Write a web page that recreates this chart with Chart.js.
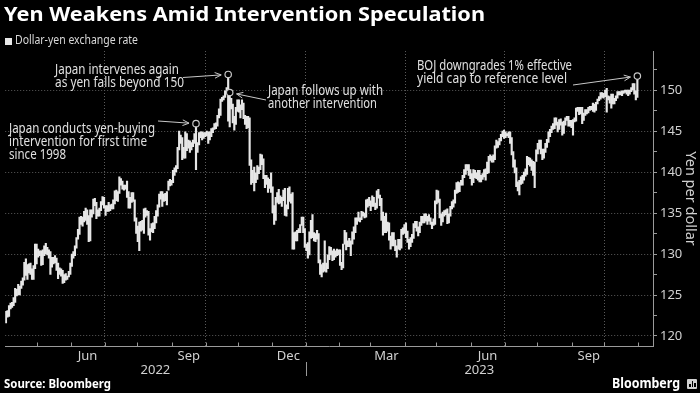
<!DOCTYPE html>
<html>
<head>
<meta charset="utf-8">
<script src="https://cdn.jsdelivr.net/npm/chart.js@4"></script>
<style>
  html, body { margin: 0; padding: 0; background: #000; }
  #wrap { position: relative; width: 700px; height: 393px; overflow: hidden; background: #000; font-family: 'Noto Sans', sans-serif; }
  #chart { position: absolute; left: 0; top: 0; }
  .txt { position: absolute; white-space: nowrap; display: inline-block; transform-origin: 0 0; line-height: 1; z-index: 2; }
  #title { left: 4px; top: 4px; font-size: 20px; font-weight: 700; color: #fff; }
  #sub { left: 15px; top: 34px; font-size: 12px; color: #d8d8d8; }
  #subKey { position: absolute; left: 5px; top: 37.5px; width: 7px; height: 7px; background: #e8e8e8; }
  #source { left: 4px; top: 378px; font-size: 12.5px; font-weight: 700; color: #fff; }
  #logo { left: 612px; top: 375.5px; font-size: 14px; font-weight: 700; color: #fff; }
  #logoIcon { position: absolute; left: 687px; top: 379px; width: 10px; height: 10px; background: #d0d0d0; border-radius: 1px; }
  #logoIcon i { position: absolute; bottom: 2px; width: 1.5px; background: #000; }
</style>
</head>
<body>
<div id="wrap">
  <canvas id="chart" width="700" height="393"></canvas>
  <div id="title" class="txt" data-w="481">Yen Weakens Amid Intervention Speculation</div>
  <div id="subKey"></div>
  <div id="sub" class="txt" data-w="123">Dollar-yen exchange rate</div>
  <div id="source" class="txt" data-w="107">Source: Bloomberg</div>
  <div id="logo" class="txt" data-w="68">Bloomberg</div>
  <div id="logoIcon"><i style="left:2px;height:3px"></i><i style="left:4.5px;height:6px"></i><i style="left:7px;height:4px"></i></div>
</div>
<script>
// Daily USD/JPY ranges, one value per weekday from 1 Apr 2022 to 31 Oct 2023
const lows = [
  // Apr 2022
  121.6,122.3,122.4,123.3,123.5,123.7,124.1,124.9,125.0,125.0,125.8,126.2,126.8,127.4,126.9,127.7,127.5,126.9,126.9,128.2,128.8,
  // May
  129.6,129.8,128.6,128.7,129.8,130.0,129.9,129.5,127.5,128.4,128.8,128.9,128.0,127.0,127.5,127.3,126.4,126.5,126.8,126.9,127.2,127.5,
  // Jun
  128.5,129.5,129.8,130.7,131.8,132.4,133.6,133.4,133.9,134.1,133.6,131.5,131.6,134.5,134.9,135.9,134.3,134.6,134.6,135.3,136.0,135.6,
  // Jul
  134.7,135.2,135.2,135.3,135.5,135.5,136.1,136.5,136.4,137.4,138.4,137.9,137.8,137.9,136.9,135.6,135.6,136.3,136.4,134.0,132.5,
  // Aug
  131.5,130.4,132.8,132.9,132.5,134.5,134.7,132.3,131.7,132.7,132.6,133.1,133.8,134.6,135.7,136.7,135.8,136.4,136.5,136.0,137.8,138.3,138.4,
  // Sep
  138.7,139.6,140.0,140.4,142.7,143.5,141.5,141.7,141.7,142.6,142.9,142.4,142.7,143.1,143.5,140.3,142.4,143.3,144.2,143.9,144.1,144.3,
  // Oct
  144.4,143.5,143.9,144.3,144.8,145.2,145.3,145.6,146.6,146.9,148.6,148.8,149.1,149.7,146.2,145.5,147.7,146.0,145.1,145.8,147.4,
  // Nov
  147.3,146.6,147.6,146.5,145.8,145.3,145.4,140.8,138.5,138.7,137.7,138.7,139.1,139.8,140.3,140.9,139.2,138.1,138.5,137.5,138.0,137.5,
  // Dec
  135.0,133.6,134.1,136.3,136.1,136.2,135.8,136.5,134.7,134.6,135.5,136.4,136.2,130.6,130.6,131.6,131.6,132.6,132.6,133.5,132.6,130.8,
  // Jan 2023
  130.4,129.5,129.9,131.9,132.0,131.6,131.5,131.8,128.9,127.5,127.2,127.8,127.9,127.8,128.2,129.3,129.9,129.2,129.3,129.6,129.8,129.9,
  // Feb
  128.6,128.1,128.3,131.2,130.5,130.9,130.9,129.8,131.2,131.8,132.6,133.6,134.0,133.9,134.2,134.6,134.4,134.5,135.7,135.9,
  // Mar
  135.3,135.8,135.8,135.4,135.6,136.8,135.9,134.1,132.3,132.6,132.6,132.8,131.7,130.6,131.0,131.0,130.4,129.6,130.6,130.5,130.7,132.4,132.5,
  // Apr
  132.0,131.4,130.6,130.9,131.4,131.9,133.2,132.8,132.2,132.6,133.5,133.8,133.8,134.0,133.6,134.0,133.6,133.1,133.5,133.6,
  // May
  136.1,136.3,134.4,133.5,133.9,134.6,134.8,133.7,133.8,134.6,135.5,135.7,136.2,137.4,137.5,137.6,138.4,138.4,139.3,139.7,140.2,139.6,139.2,
  // Jun
  138.4,138.7,139.3,139.2,139.0,138.8,138.8,139.1,139.4,139.0,139.8,139.9,141.4,141.2,141.2,141.5,142.9,143.0,143.3,143.8,144.3,144.1,
  // Jul
  144.2,144.4,144.2,143.5,142.1,140.6,139.9,138.2,137.7,137.2,138.5,138.6,139.0,139.5,139.7,140.9,140.7,140.2,139.6,138.1,141.3,
  // Aug
  142.2,142.8,142.2,141.5,141.7,142.4,143.0,143.6,144.3,144.8,145.2,145.3,145.7,144.9,145.2,145.7,144.5,144.7,145.7,146.3,145.6,145.6,145.4,
  // Sep
  144.5,146.1,146.2,147.4,147.0,147.1,145.9,146.3,146.9,147.1,147.2,147.5,147.6,147.4,147.3,147.5,148.3,148.7,148.9,149.1,149.0,
  // Oct
  149.2,147.3,148.8,148.4,147.8,148.3,148.3,148.7,149.0,149.4,149.4,149.3,149.6,149.7,149.5,149.3,149.5,149.8,150.0,149.5,148.8,149.1
];
const highs = [
  // Apr 2022
  123.0,123.1,123.7,124.0,124.1,124.7,125.8,125.7,126.3,126.1,126.7,127.1,129.0,129.4,128.7,128.8,128.9,128.2,128.6,131.2,131.2,
  // May
  130.6,130.4,130.4,130.5,131.0,131.3,130.8,130.5,130.3,129.6,129.6,129.8,129.5,128.9,128.3,128.2,128.0,127.5,127.6,127.3,127.9,128.9,
  // Jun
  130.0,130.3,131.0,132.0,133.0,134.5,134.6,134.5,135.2,135.6,135.4,134.7,135.4,135.4,136.7,136.8,136.3,135.4,135.6,136.4,137.0,136.9,
  // Jul
  135.9,135.9,136.3,136.0,136.1,136.6,137.7,137.8,137.6,139.4,139.2,138.9,138.4,138.4,138.9,137.6,136.9,137.5,137.5,136.6,134.4,
  // Aug
  133.4,133.9,134.0,134.1,135.5,135.6,135.3,135.2,133.1,133.7,133.8,134.6,135.3,136.0,137.3,137.6,137.6,137.3,137.4,137.6,138.9,139.1,139.0,
  // Sep
  140.2,140.5,140.8,143.0,145.0,144.5,144.2,143.0,144.9,144.7,143.9,143.8,143.6,143.9,144.7,145.9,143.6,144.8,144.9,144.9,144.8,144.8,
  // Oct
  145.0,144.9,144.9,145.3,145.4,145.9,146.0,146.9,147.7,148.9,149.1,149.3,149.9,150.3,151.9,149.7,149.0,148.3,146.8,147.9,148.8,
  // Nov
  148.8,148.2,148.8,148.4,146.9,146.8,146.8,146.6,141.5,140.2,140.6,139.9,140.8,140.6,142.2,142.1,141.6,139.6,139.6,139.3,139.1,139.9,
  // Dec
  138.2,135.9,136.9,137.5,137.9,137.1,136.9,137.8,138.0,136.0,138.0,138.2,137.3,137.5,132.6,132.7,132.9,133.1,133.6,134.5,134.5,133.1,
  // Jan 2023
  131.2,131.4,132.7,134.1,134.8,132.6,132.5,132.9,132.5,129.3,128.7,128.9,131.6,128.9,129.9,130.9,130.8,130.4,130.6,130.4,130.6,130.5,
  // Feb
  130.5,129.0,131.2,132.9,132.6,131.6,131.9,131.6,132.7,133.3,134.4,134.4,135.1,134.4,135.2,135.1,135.0,136.6,136.7,136.9,
  // Mar
  136.5,137.1,136.9,136.2,137.7,137.9,137.2,136.8,135.1,134.6,135.0,133.9,133.8,132.2,132.6,132.6,131.7,131.0,131.8,131.8,133.0,133.2,133.6,
  // Apr
  133.8,132.8,131.8,132.0,132.4,133.7,134.0,134.0,133.3,133.9,134.6,134.6,134.9,134.9,134.6,134.8,134.4,133.9,134.3,136.5,
  // May
  137.8,137.7,136.7,134.9,135.1,135.3,135.4,135.5,134.9,135.8,136.4,136.6,137.8,138.7,138.8,138.7,139.0,139.6,140.3,140.9,140.9,140.9,140.3,
  // Jun
  139.8,140.3,140.2,139.9,140.2,140.2,139.6,139.8,140.3,140.4,141.2,141.9,142.1,141.9,142.1,143.2,143.9,143.7,144.1,144.6,145.0,145.1,
  // Jul
  144.9,144.7,144.9,144.9,144.2,142.5,141.5,140.5,138.8,139.0,139.4,139.6,140.0,140.4,141.9,141.8,141.7,141.5,141.3,141.2,142.7,
  // Aug
  143.5,143.9,143.9,142.8,142.8,143.5,144.0,144.9,145.2,145.6,145.9,146.6,146.6,146.1,146.4,146.5,146.1,146.2,146.6,146.8,146.8,146.3,146.3,
  // Sep
  146.4,146.6,147.8,147.9,147.9,147.9,147.9,147.2,147.6,147.6,147.9,148.0,148.0,148.4,148.3,148.5,148.9,149.2,149.7,149.7,149.6,
  // Oct
  150.0,150.2,149.3,149.2,149.5,149.5,149.0,149.3,149.8,149.8,149.8,149.9,149.9,150.0,150.0,150.0,150.0,150.3,150.8,150.8,149.9,151.7
];

// Marked events
const markDates = ['2022-09-22', '2022-10-21', '2022-10-24', '2023-10-31'];
const markValues = [145.9, 151.9, 149.7, 151.7];
const markNotes = [
  ['Japan conducts yen-buying', 'intervention for first time', 'since 1998'],
  ['Japan intervenes again', 'as yen falls beyond 150'],
  ['Japan follows up with', 'another intervention'],
  ['BOJ downgrades 1% effective', 'yield cap to reference level']
];

// Axis labels
const monthNames = ['Jan', 'Feb', 'Mar', 'Apr', 'May', 'Jun', 'Jul', 'Aug', 'Sep', 'Oct', 'Nov', 'Dec'];
const labeledMonths = ['Jun', 'Sep', 'Dec', 'Mar'];
const yearLabels = ['2022', '2023'];
const yTicks = [120, 122.5, 125, 127.5, 130, 132.5, 135, 137.5, 140, 142.5, 145, 147.5, 150, 152.5];

// Where the note text and arrow tails sit (pixels)
const noteLayout = [
  { x: 9, y: 132.5, w: [146, 138, 57], from: [158, 121] },
  { x: 55, y: 74, w: [124, 129], from: [183, 77.5] },
  { x: 268, y: 94.5, w: [115, 109], from: [266, 100] },
  { x: 417, y: 69.5, w: [155, 150], from: [573, 85] }
];

const DAY = 86400000;
const start = Date.UTC(2022, 3, 1);
const end = Date.UTC(2023, 9, 31);
function stamp(str) {
  const p = str.split('-').map(Number);
  return Date.UTC(p[0], p[1] - 1, p[2]);
}

// weekdays = trading days; the x axis counts trading days, as on the terminal
const tradeDays = [];
for (let t = start; t <= end; t += DAY) {
  const wd = new Date(t).getUTCDay();
  if (wd !== 0 && wd !== 6) tradeDays.push(t);
}
console.log('days', tradeDays.length, lows.length, highs.length);

// month boundaries sit between the last session of one month and the first of the next
const monthStarts = [];
for (let m = 4; m <= 22; m++) {
  const t = Date.UTC(2022 + Math.floor(m / 12), m % 12, 1);
  let idx = tradeDays.findIndex(d => d >= t);
  if (idx < 0) idx = tradeDays.length;
  monthStarts.push({ value: idx - 0.5, month: m % 12, year: 2022 + Math.floor(m / 12) });
}
const yearBreak = monthStarts.find(ms => ms.month === 0).value;

const candles = tradeDays.map((d, i) => ({ x: i, y: [lows[i], highs[i]] }));
const marks = markDates.map((d, i) => ({ x: tradeDays.indexOf(stamp(d)), y: markValues[i] }));

function fitText(ctx, text, x, y, w) {
  const m = ctx.measureText(text).width;
  ctx.save();
  ctx.translate(x, y);
  ctx.scale(w / m, 1);
  ctx.fillText(text, 0, 0);
  ctx.restore();
}

function arrow(ctx, x0, y0, x1, y1) {
  const a = Math.atan2(y1 - y0, x1 - x0);
  ctx.beginPath();
  ctx.moveTo(x0, y0);
  ctx.lineTo(x1, y1);
  ctx.moveTo(x1 - 7 * Math.cos(a - 0.42), y1 - 7 * Math.sin(a - 0.42));
  ctx.lineTo(x1, y1);
  ctx.lineTo(x1 - 7 * Math.cos(a + 0.42), y1 - 7 * Math.sin(a + 0.42));
  ctx.stroke();
}

const extras = {
  id: 'extras',
  afterDraw(chart) {
    const ctx = chart.ctx;
    const xs = chart.scales.x, ys = chart.scales.y;
    const area = chart.chartArea;
    ctx.save();

    // small month ticks on the x axis
    ctx.strokeStyle = '#999';
    ctx.lineWidth = 1;
    monthStarts.forEach(ms => {
      const px = Math.round(xs.getPixelForValue(ms.value)) + 0.5;
      ctx.beginPath();
      ctx.moveTo(px, area.bottom);
      ctx.lineTo(px, area.bottom - 3.5);
      ctx.stroke();
    });

    // year labels and divider
    const yx = xs.getPixelForValue(yearBreak);
    ctx.beginPath();
    ctx.moveTo(Math.round(yx) + 0.5, 362);
    ctx.lineTo(Math.round(yx) + 0.5, 376);
    ctx.stroke();
    ctx.fillStyle = '#d0d0d0';
    ctx.font = "13px 'Noto Sans'";
    ctx.textAlign = 'center';
    ctx.textBaseline = 'alphabetic';
    ctx.fillText(yearLabels[0], (area.left + yx) / 2, 374);
    ctx.fillText(yearLabels[1], (yx + area.right) / 2, 374);

    // notes with arrows
    ctx.textAlign = 'left';
    ctx.font = "13.5px 'Noto Sans'";
    ctx.fillStyle = '#e0e0e0';
    ctx.strokeStyle = '#c8c8c8';
    markNotes.forEach((lines, i) => {
      const lay = noteLayout[i];
      lines.forEach((ln, j) => fitText(ctx, ln, lay.x, lay.y + j * 13.2, lay.w[j]));
      const cx = xs.getPixelForValue(marks[i].x);
      const cy = ys.getPixelForValue(marks[i].y);
      const dx = lay.from[0] - cx, dy = lay.from[1] - cy;
      const len = Math.hypot(dx, dy);
      arrow(ctx, lay.from[0], lay.from[1], cx + dx / len * 7, cy + dy / len * 7);
    });
    ctx.restore();
  }
};

Chart.defaults.font.family = "'Noto Sans', sans-serif";

new Chart(document.getElementById('chart'), {
  type: 'bar',
  data: {
    datasets: [
      {
        type: 'line',
        data: marks,
        showLine: false,
        pointRadius: 3.2,
        pointBorderWidth: 1.2,
        pointBorderColor: '#c8c8c8',
        pointBackgroundColor: '#000',
        order: 0
      },
      {
        data: candles,
        backgroundColor: '#e6e6e6',
        borderWidth: 0,
        barThickness: 1.5,
        order: 1
      }
    ]
  },
  options: {
    responsive: false,
    animation: false,
    layout: { padding: { top: 51, left: 0, right: 0, bottom: 0 } },
    plugins: { legend: { display: false }, tooltip: { enabled: false } },
    scales: {
      x: {
        type: 'linear',
        offset: false,
        min: -0.5,
        max: 422.2,
        afterFit(scale) { scale.height = 47; },
        afterBuildTicks(scale) { scale.ticks = monthStarts.map(ms => ({ value: ms.value })); },
        grid: {
          drawTicks: false,
          offset: false,
          color: ctx => {
            const ms = monthStarts.find(m => ctx.tick && m.value === ctx.tick.value);
            return ms && ms.month % 3 === 0 ? '#5a5a5a' : 'transparent';
          }
        },
        border: { color: '#9a9a9a', width: 1, dash: [1, 2] },
        ticks: {
          autoSkip: false,
          maxRotation: 0,
          padding: 2,
          labelOffset: 16.5,
          color: '#d0d0d0',
          font: { size: 13 },
          callback(value) {
            const ms = monthStarts.find(m => m.value === value);
            const name = ms ? monthNames[ms.month] : '';
            return labeledMonths.includes(name) ? name : '';
          }
        }
      },
      y: {
        position: 'right',
        min: 118.78,
        max: 154.76,
        afterFit(scale) { scale.width = 47; },
        afterBuildTicks(scale) { scale.ticks = yTicks.map(v => ({ value: v })); },
        grid: {
          tickLength: 4,
          tickColor: '#9a9a9a',
          color: ctx => (ctx.tick && ctx.tick.value % 5 === 0 ? '#5a5a5a' : 'transparent')
        },
        border: { color: '#9a9a9a', width: 1, dash: [1, 2] },
        ticks: {
          padding: 3,
          color: '#d0d0d0',
          font: { size: 13 },
          callback: v => (v % 5 === 0 ? String(v) : '')
        },
        title: {
          display: true,
          text: 'Yen per dollar',
          color: '#d0d0d0',
          font: { size: 14.5 },
          padding: { top: 1, bottom: 0 }
        }
      }
    }
  },
  plugins: [extras]
});

// squeeze header/footer text to the reference widths
document.querySelectorAll('[data-w]').forEach(el => {
  const w = el.getBoundingClientRect().width;
  el.style.transform = 'scaleX(' + (Number(el.dataset.w) / w) + ')';
});
</script>
</body>
</html>
